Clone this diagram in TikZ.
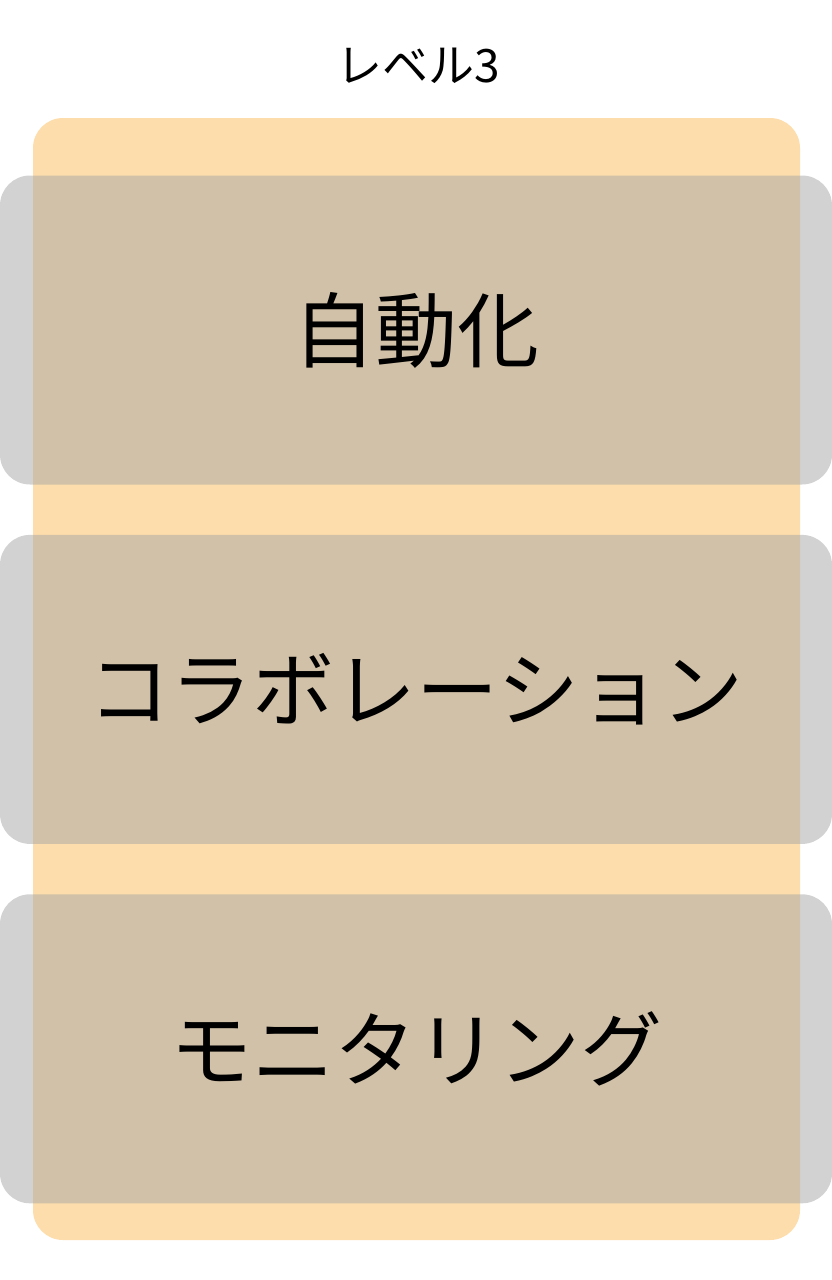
\documentclass[tikz,border=0pt]{standalone}
\usepackage{fontspec}
\setmainfont{Noto Sans CJK JP}
\usetikzlibrary{positioning}

\begin{document}
\begin{tikzpicture}[
    x=1pt, y=-1pt,
    level/.style={rectangle, rounded corners=30pt, fill=levelorange, minimum width=767pt, minimum height=1122pt, inner sep=0pt},
    layer/.style={rectangle, rounded corners=30pt, fill=black!35, fill opacity=0.5, text opacity=1, minimum width=832pt, minimum height=309pt, inner sep=0pt, font=\fontsize{82}{90}\selectfont},
    title/.style={font=\fontsize{46}{52}\selectfont}
]
    \definecolor{levelorange}{HTML}{FDDDAB}
    \useasboundingbox (0,0) rectangle (832,1280);

    % Title
    \node[title] (title) at (418,66) {レベル3};

    % Level frame
    \node[level] (frame) at (416.5,679) {};

    % Layers
    \node[layer] (auto) at (416,330) {自動化};
    \node[layer, below=50pt of auto] (collab) {コラボレーション};
    \node[layer, below=50pt of collab] (monitor) {モニタリング};
\end{tikzpicture}
\end{document}
